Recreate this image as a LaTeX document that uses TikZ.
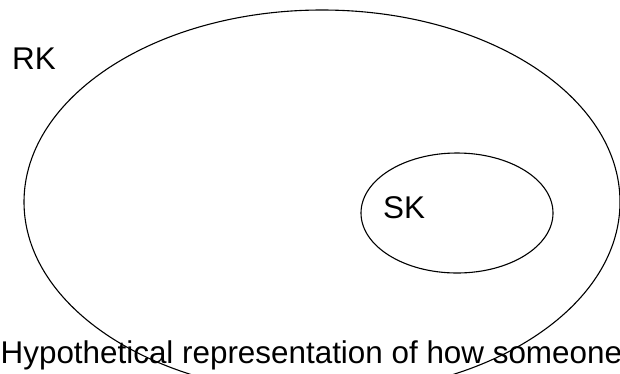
\documentclass[tikz,border=0pt]{standalone}
\usepackage{fontspec}
\setmainfont{Liberation Sans}
\usetikzlibrary{shapes.geometric, positioning}

\begin{document}
\begin{tikzpicture}[
    x=1pt, y=-1pt,
    setshape/.style={draw=black, line width=1.1pt, ellipse, inner sep=0pt},
    settext/.style={inner sep=0pt, anchor=base west, font=\fontsize{31.4}{37}\selectfont}
  ]
    % Frame
    \path[use as bounding box] (0,0) rectangle (620,373);
    \clip (0,0) rectangle (620,373);

    % RK (big set)
    \node[setshape, minimum width=596pt, minimum height=384pt] (rk) at (322, 202) {};
    \node[settext] (rklabel) at (12, 69.5) {RK};

    % SK (small set)
    \node[setshape, minimum width=192pt, minimum height=120pt] (sk) at (457, 213) {};
    \node[settext] (sklabel) at (383, 218.5) {SK};

    % Caption
    \node[settext] (caption) at (0.5, 363) {Hypothetical representation of how someone};
\end{tikzpicture}
\end{document}
